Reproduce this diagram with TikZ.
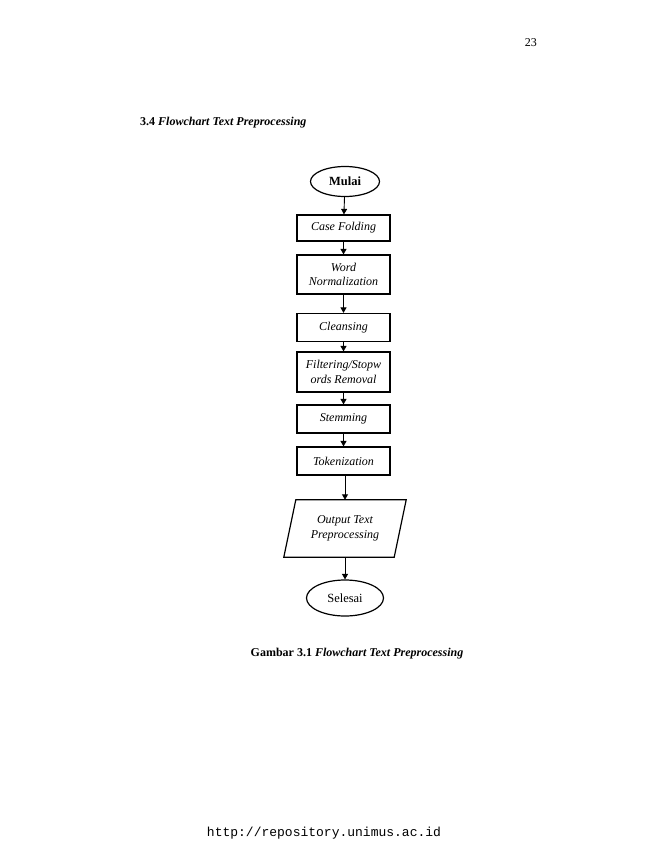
\documentclass[tikz,border=0pt]{standalone}
\usepackage{fontspec}
\setmainfont{Liberation Serif}
\setmonofont{Liberation Mono}
\usetikzlibrary{shapes.geometric,arrows.meta,calc}
\tikzset{
  procbox/.style={draw, line width=1.2pt, rectangle, minimum width=93pt, inner sep=1pt, align=center, font=\fontsize{12}{14.5}\selectfont\itshape},
  termnode/.style={draw, line width=1.2pt, ellipse, inner sep=0pt, font=\fontsize{12.5}{14}\selectfont},
  arr/.style={line width=0.9pt, -{Triangle[length=5.5pt,width=6pt]}},
  pagetext/.style={font=\fontsize{12}{14}\selectfont, inner sep=0pt}
}
\begin{document}
\begin{tikzpicture}[x=1pt,y=-1pt]
\useasboundingbox (0,0) rectangle (650,841);
\fill[white] (0,0) rectangle (650,841);
% page texts
\node[pagetext, anchor=base east] (pnum) at (537,46) {23};
\node[pagetext, anchor=base west] (head) at (140,125) {\textbf{3.4 \textit{Flowchart Text Preprocessing}}};
\node[pagetext] (cap) at (357,654) {\textbf{Gambar 3.1 \textit{Flowchart Text Preprocessing}}};
\node[pagetext, font=\fontsize{13}{15}\selectfont\ttfamily] (url) at (324,833) {http://repository.unimus.ac.id};
% flowchart
\node[termnode, minimum width=69pt, minimum height=30pt, font=\fontsize{12.5}{14}\selectfont\bfseries] (mulai) at (345,181.5) {Mulai};
\node[procbox, minimum height=26pt] (b1) at (343.5,228) {Case Folding};
\node[procbox, minimum height=39pt] (b2) at (343.5,274.5) {Word\\Normalization};
\node[procbox, minimum height=28pt] (b3) at (343.5,327.5) {Cleansing};
\node[procbox, minimum height=40pt] (b4) at (343.5,372) {Filtering/Stopw\\ords Removal};
\node[procbox, minimum height=28pt] (b5) at (343.5,419) {Stemming};
\node[procbox, minimum height=28pt] (b6) at (343.5,461) {Tokenization};
\node[minimum width=122pt, minimum height=57pt, inner sep=0pt, align=center, font=\fontsize{12}{14.5}\selectfont\itshape] (out) at (345,528.5) {Output Text\\Preprocessing};
\draw[line width=1.2pt] (out.south west) -- ($(out.north west)+(12,0)$) -- (out.north east) -- ($(out.south east)+(-12,0)$) -- cycle;
\node[termnode, minimum width=77pt, minimum height=36pt] (selesai) at (345,598) {Selesai};
% connectors
\draw[arr] (mulai) -- (b1);
\draw[arr] (b1) -- (b2);
\draw[arr] (b2) -- (b3);
\draw[arr] (b3) -- (b4);
\draw[arr] (b4) -- (b5);
\draw[arr] (b5) -- (b6);
\draw[arr] (b6.south -| out.north) -- (out.north);
\draw[arr] (out.south) -- (selesai);
\end{tikzpicture}
\end{document}
